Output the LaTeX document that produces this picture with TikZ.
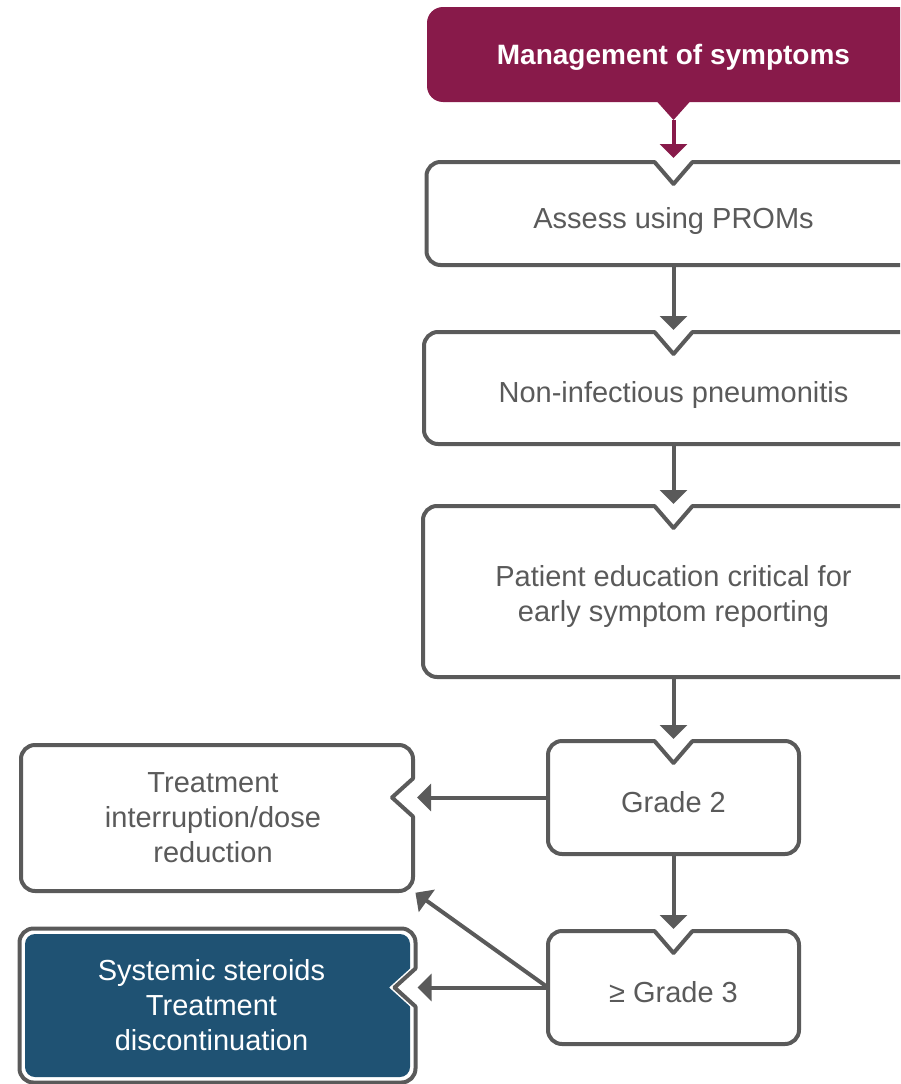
\documentclass[tikz,border=0pt]{standalone}
\usepackage{fontspec}
\setmainfont{Liberation Sans}
\usetikzlibrary{positioning,calc,arrows.meta}

\definecolor{plum}{HTML}{881A4A}
\definecolor{steel}{HTML}{1F5273}
\definecolor{ink}{HTML}{5A5A5A}

% outline with a V cut into the top edge
\newcommand\topnotch[1]{[rounded corners=0.5pt] ($(#1.north)+(0,22)$) -- ($(#1.north)+(-19,0)$) [rounded corners=14pt] -- (#1.north west) -- (#1.south west) -- (#1.south east) -- (#1.north east) [rounded corners=0.5pt] -- ($(#1.north)+(19,0)$) -- cycle}
% outline with a V cut into the right edge, at the height of #2, inset by #3
\newcommand\rightnotch[4]{[rounded corners=0.5pt] ($(#1.east |- #2)+(-#3-21,0)$) -- ($(#1.east |- #2)+(-#3,-19)$) [rounded corners=#4] -- ($(#1.north east)+(-#3,#3)$) -- ($(#1.north west)+(#3,#3)$) -- ($(#1.south west)+(#3,-#3)$) -- ($(#1.south east)+(-#3,-#3)$) [rounded corners=0.5pt] -- ($(#1.east |- #2)+(-#3,19)$) -- cycle}

\tikzset{
    frame/.style={rectangle, inner sep=0pt, outer sep=0pt},
    boxline/.style={draw=ink, line width=4pt},
    lbl/.style={text=ink, align=center, font=\fontsize{29}{35}\selectfont},
    flow/.style={draw=ink, line width=4pt, -{Triangle[width=27pt,length=14pt]}}
}

\begin{document}
\begin{tikzpicture}[x=1pt, y=-1pt]
    \useasboundingbox (0,0) rectangle (900,1084);
    \clip (0,0) rectangle (900,1084);
    %Boxes
    \node[frame, fill=plum, rounded corners=16pt, minimum width=493pt, minimum height=95pt] (manage) at (673.5,54.5) {};
    \node[frame, minimum width=494pt, minimum height=103pt, below=60pt of manage] (assess) {};
    \node[frame, minimum width=499pt, minimum height=112pt, below=67pt of assess] (pneu) {};
    \node[frame, minimum width=501pt, minimum height=171pt, below=62pt of pneu] (educ) {};
    \node[frame, minimum width=251pt, minimum height=113pt, below=64pt of educ] (grtwo) {};
    \node[frame, minimum width=251pt, minimum height=113pt, below=77pt of grtwo] (grthree) {};
    \node[frame, minimum width=392pt, minimum height=146pt] (interr) at (217,818) {};
    \node[frame, minimum width=396pt, minimum height=154pt] (steroid) at (217.5,1005.5) {};
    \coordinate (mtip) at ($(manage.south)+(0,18)$);
    \fill[plum] ($(manage.south)+(-17,-1)$) -- (mtip) -- ($(manage.south)+(17,-1)$) -- cycle;
    \draw[boxline] \topnotch{assess};
    \draw[boxline] \topnotch{pneu};
    \draw[boxline] \topnotch{educ};
    \draw[boxline] \topnotch{grtwo};
    \draw[boxline] \topnotch{grthree};
    \draw[boxline] \rightnotch{interr}{grtwo.west}{0}{14pt};
    \draw[boxline, fill=white] \rightnotch{steroid}{grthree.west}{0}{14pt};
    \fill[steel] \rightnotch{steroid}{grthree.west}{5.5}{10pt};
    %Texts
    \node[lbl, text=white, font=\fontsize{28}{35}\selectfont\bfseries] (managetxt) at ([yshift=-3pt]manage.center) {Management of symptoms};
    \node[lbl] (assesstxt) at ([yshift=-7pt]assess.center) {Assess using PROMs};
    \node[lbl] (pneutxt) at ([yshift=-7pt]pneu.center) {Non-infectious pneumonitis};
    \node[lbl] (eductxt) at ([yshift=-5pt]educ.center) {Patient education critical for\\early symptom reporting};
    \node[lbl] (grtwotxt) at ([yshift=-4.5pt]grtwo.center) {Grade 2};
    \node[lbl] (grthreetxt) at ([yshift=-4.5pt]grthree.center) {≥ Grade 3};
    \node[lbl] (interrtxt) at ([xshift=-4pt]interr.center) {Treatment\\interruption/dose\\reduction};
    \node[lbl, text=white] (steroidtxt) at ([xshift=-6pt]steroid.center) {Systemic steroids\\Treatment\\discontinuation};
    %Lines
    \draw[flow, draw=plum, shorten >=4pt] (mtip) -- (assess.north);
    \draw[flow, shorten >=2pt] (assess.south) -- (pneu.north);
    \draw[flow, shorten >=2pt] (pneu.south) -- (educ.north);
    \draw[flow, shorten >=2pt] (educ.south) -- (grtwo.north);
    \draw[flow, shorten >=2pt] (grtwo.south) -- (grthree.north);
    \draw[flow, shorten >=4pt] (grtwo.west) -- (interr.east |- grtwo.west);
    \draw[flow, shorten >=3pt] (grthree.west) -- (interr.south east);
    \draw[flow, shorten >=2pt] (grthree.west) -- (steroid.east |- grthree.west);
\end{tikzpicture}
\end{document}
